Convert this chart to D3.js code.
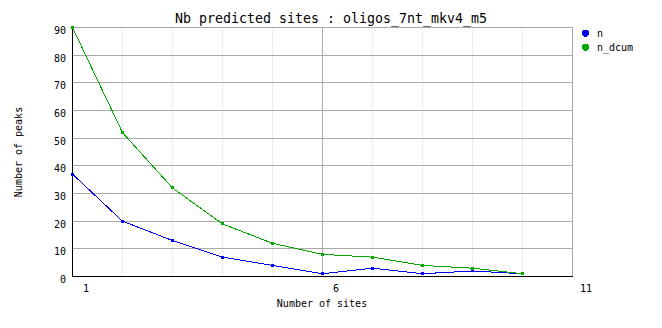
<!DOCTYPE html>
<html>
<head>
<meta charset="utf-8">
<script src="https://cdn.jsdelivr.net/npm/d3@7"></script>
<style>
body { margin: 0; background: #fff; }
svg text { font-family: 'DejaVu Sans Mono', monospace; fill: #000; }
</style>
</head>
<body>
<script>
// Nb predicted sites chart, redrawn with d3.

var width = 662,
    height = 328,
    margin = {left: 72, top: 27, right: 90, bottom: 52};

var title = 'Nb predicted sites : oligos_7nt_mkv4_m5';
var xLabel = 'Number of sites',
    yLabel = 'Number of peaks';

var sites = [1, 2, 3, 4, 5, 6, 7, 8, 9, 10];
var nValues = [37, 20, 13, 7, 4, 1, 3, 1, 2, 1];
var nDcumValues = [90, 52, 32, 19, 12, 8, 7, 4, 3, 1];
var xTicks = [1, 6, 11];
var yTicks = [0, 10, 20, 30, 40, 50, 60, 70, 80, 90];

var series = [
    {name: 'n', values: nValues, color: '#0000f0'},
    {name: 'n_dcum', values: nDcumValues, color: '#00a800'}
];

var plotW = width - margin.left - margin.right,
    plotH = height - margin.top - margin.bottom;

var svg = d3.select('body').append('svg')
    .attr('width', width)
    .attr('height', height);

var g = svg.append('g')
    .attr('transform', 'translate(' + margin.left + ',' + margin.top + ')');

var xs = d3.scaleLinear().domain([1, 11]).range([0, plotW]);
var ys = d3.scaleLinear().domain([0, 90]).range([plotH, 0]);

// minor vertical grid
g.append('g').selectAll('line')
    .data(d3.range(1, 12))
    .enter().append('line')
    .attr('x1', function(d) { return Math.round(xs(d)) + 0.5; })
    .attr('x2', function(d) { return Math.round(xs(d)) + 0.5; })
    .attr('y1', 0)
    .attr('y2', plotH)
    .style('stroke', '#ececec');

// major grid
g.append('g').selectAll('line')
    .data(yTicks)
    .enter().append('line')
    .attr('x1', 0)
    .attr('x2', plotW)
    .attr('y1', function(d) { return Math.round(ys(d)) + 0.5; })
    .attr('y2', function(d) { return Math.round(ys(d)) + 0.5; })
    .style('stroke', '#aaaaaa');

g.append('g').selectAll('line')
    .data(xTicks)
    .enter().append('line')
    .attr('x1', function(d) { return Math.round(xs(d)) + 0.5; })
    .attr('x2', function(d) { return Math.round(xs(d)) + 0.5; })
    .attr('y1', 0)
    .attr('y2', plotH)
    .style('stroke', '#aaaaaa');

// axes lines (black)
g.append('line')
    .attr('x1', 0.5).attr('x2', 0.5)
    .attr('y1', 0).attr('y2', plotH + 1)
    .style('stroke', '#000');
g.append('line')
    .attr('x1', 0).attr('x2', plotW + 1)
    .attr('y1', plotH + 0.5).attr('y2', plotH + 0.5)
    .style('stroke', '#000');

// tick labels
g.append('g').selectAll('text')
    .data(yTicks)
    .enter().append('text')
    .attr('x', -6)
    .attr('y', function(d) { return ys(d) + 7; })
    .attr('text-anchor', 'end')
    .style('font-size', '10px')
    .text(function(d) { return d; });

g.append('g').selectAll('text')
    .data(xTicks)
    .enter().append('text')
    .attr('x', function(d) { return xs(d) + 14; })
    .attr('y', plotH + 16)
    .attr('text-anchor', 'middle')
    .style('font-size', '10px')
    .text(function(d) { return d; });

// titles
svg.append('text')
    .attr('x', 331)
    .attr('y', 23)
    .attr('text-anchor', 'middle')
    .style('font-size', '13.3px')
    .text(title);

svg.append('text')
    .attr('x', 322)
    .attr('y', 307)
    .attr('text-anchor', 'middle')
    .style('font-size', '10px')
    .text(xLabel);

svg.append('text')
    .attr('transform', 'translate(22,152) rotate(-90)')
    .attr('text-anchor', 'middle')
    .style('font-size', '10px')
    .text(yLabel);

// lines and markers
var line = d3.line()
    .x(function(d, i) { return xs(sites[i]) + 0.5; })
    .y(function(d) { return ys(d) + 0.5; });

series.forEach(function(s) {
    var sg = g.append('g');
    sg.append('path')
        .attr('d', line(s.values))
        .style('fill', 'none')
        .style('stroke', s.color)
        .style('stroke-width', 1)
        .style('shape-rendering', 'crispEdges');
    sg.selectAll('rect')
        .data(s.values)
        .enter().append('rect')
        .attr('x', function(d, i) { return Math.round(xs(sites[i])) - 1; })
        .attr('y', function(d) { return Math.round(ys(d)) - 1; })
        .attr('width', 3)
        .attr('height', 3)
        .style('fill', s.color)
        .style('shape-rendering', 'crispEdges');
});

// legend
var legend = svg.append('g').attr('transform', 'translate(585,33)');
var items = legend.selectAll('g')
    .data(series)
    .enter().append('g')
    .attr('transform', function(d, i) { return 'translate(0,' + (i * 14) + ')'; });
items.append('path')
    .attr('d', 'M-1.5,-3.5h3l2,2v3l-2,2h-3l-2,-2v-3z')
    .style('fill', function(d) { return d.color; })
    .style('shape-rendering', 'crispEdges');
items.append('text')
    .attr('x', 12)
    .attr('y', 4)
    .style('font-size', '10px')
    .text(function(d) { return d.name; });
</script>
</body>
</html>
